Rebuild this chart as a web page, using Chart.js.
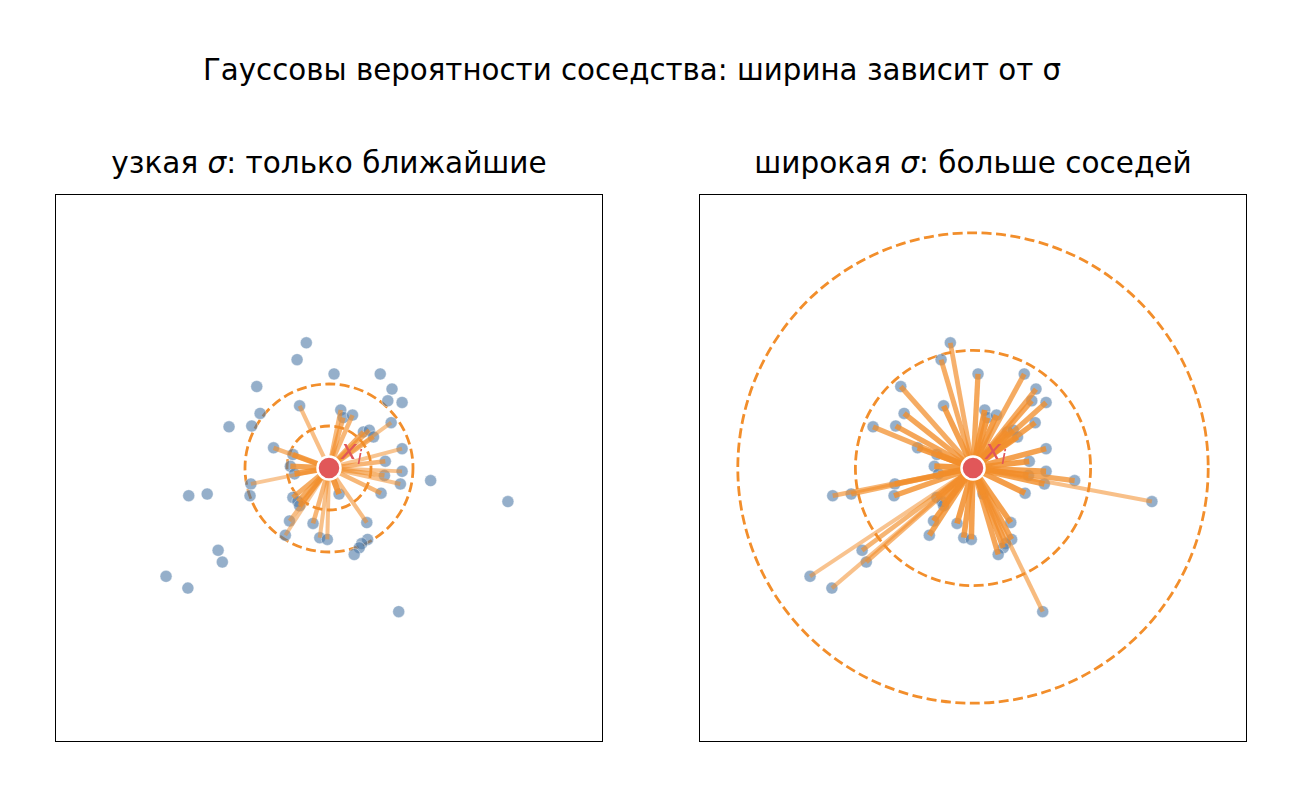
<!DOCTYPE html>
<html>
<head>
<meta charset="utf-8">
<script src="https://cdn.jsdelivr.net/npm/chart.js@4.4.1/dist/chart.umd.min.js"></script>
<style>
    body { margin: 0; background: #fff; font-family: "DejaVu Sans", sans-serif; }
    #page { position: relative; width: 1302px; height: 797px; }
    .title { position: absolute; text-align: center; color: #000; white-space: nowrap; }
    #mainTitle { left: 0; width: 1264px; top: 50px; font-size: 29.3px; line-height: 40px; }
    .subTitle { top: 145px; width: 546px; font-size: 29.5px; line-height: 36px; }
    .subTitle i { font-family: "DejaVu Sans", sans-serif; }
    canvas { position: absolute; }
</style>
</head>
<body>
<div id="page">
    <div id="mainTitle" class="title">Гауссовы вероятности соседства: ширина зависит от σ</div>
    <div class="title subTitle" style="left:56px">узкая <i>σ</i>: только ближайшие</div>
    <div class="title subTitle" style="left:700px">широкая <i>σ</i>: больше соседей</div>
    <canvas id="narrowChart" width="548" height="548" style="left:55px; top:194px"></canvas>
    <canvas id="wideChart" width="548" height="548" style="left:699px; top:194px"></canvas>
</div>
<script>
// Соседи (координаты в единицах данных, центр x_i в нуле)
const pointX = [-0.27, -0.38, 0.06, 0.61, -0.86, 0.75, 0.70, 0.87, -0.35, -0.82,
    0.14, 0.17, 0.28, -1.19, -0.92, 0.74, 0.41, 0.48, 0.53, -0.66,
    -0.43, 0.87, -0.46, 0.67, 0.87, -0.41, 0.66, 0.85, 1.21, -0.93,
    -0.94, -1.67, -1.45, -0.43, -0.37, -0.35, 0.62, 0.12, -0.47, -0.19,
    0.45, -0.52, -0.11, -0.02, 0.46, 0.39, 0.36, 0.30, -1.32, -1.27,
    -1.94, -1.68, 0.83, 2.13];
const pointY = [1.49, 1.29, 1.12, 1.12, 0.97, 0.94, 0.80, 0.78, 0.74, 0.65,
    0.69, 0.60, 0.63, 0.49, 0.50, 0.54, 0.43, 0.45, 0.37, 0.24,
    0.16, 0.23, 0.02, 0.08, -0.04, -0.07, -0.09, -0.19, -0.15, -0.19,
    -0.33, -0.33, -0.31, -0.35, -0.40, -0.45, -0.30, -0.31, -0.63, -0.66,
    -0.65, -0.80, -0.83, -0.85, -0.85, -0.90, -0.95, -1.03, -0.98, -1.12,
    -1.29, -1.43, -1.71, -0.40];
const centerPoint = { x: 0, y: 0 };
const sigmaNarrow = 0.5;
const sigmaWide = 1.4;
const circleMultipliers = [1, 2];
const axisLimit = 3.25;

const ORANGE = '242, 142, 43';
const RED = '#e15759';
const BLUE = 'rgba(78, 121, 167, 0.6)';

// Рамка, пунктирные окружности и подпись x_i
const panelPlugin = {
    id: 'panelDecor',
    beforeDatasetsDraw(chart) {
        const { ctx, scales } = chart;
        const sigma = chart.options.plugins.panelDecor.sigma;
        const cx = scales.x.getPixelForValue(centerPoint.x);
        const cy = scales.y.getPixelForValue(centerPoint.y);
        ctx.save();
        ctx.strokeStyle = `rgb(${ORANGE})`;
        ctx.lineWidth = 2.8;
        ctx.setLineDash([10, 4.5]);
        circleMultipliers.forEach(k => {
            const r = scales.x.getPixelForValue(centerPoint.x + k * sigma) - cx;
            ctx.beginPath();
            ctx.arc(cx, cy, r, 0, Math.PI * 2);
            ctx.stroke();
        });
        ctx.restore();
    },
    afterDatasetsDraw(chart) {
        const { ctx, chartArea, scales } = chart;
        const cx = scales.x.getPixelForValue(centerPoint.x);
        const cy = scales.y.getPixelForValue(centerPoint.y);
        ctx.save();
        ctx.fillStyle = RED;
        ctx.font = 'italic 27px "DejaVu Sans"';
        ctx.textBaseline = 'alphabetic';
        ctx.fillText('x', cx + 12, cy - 9);
        ctx.font = 'italic 19px "DejaVu Sans"';
        ctx.fillText('i', cx + 28, cy - 4);
        ctx.restore();
        ctx.save();
        ctx.strokeStyle = '#000';
        ctx.lineWidth = 1;
        ctx.strokeRect(chartArea.left - 0.5, chartArea.top - 0.5,
            chartArea.right - chartArea.left + 1, chartArea.bottom - chartArea.top + 1);
        ctx.restore();
    }
};

function buildDatasets(sigma) {
    const weights = pointX.map((x, i) => {
        const dx = x - centerPoint.x;
        const dy = pointY[i] - centerPoint.y;
        return Math.exp(-(dx * dx + dy * dy) / (2 * sigma * sigma));
    });
    const wMax = Math.max(...weights);
    const datasets = [];

    // Соседние точки
    datasets.push({
        type: 'scatter',
        data: pointX.map((x, i) => ({ x: x, y: pointY[i] })),
        backgroundColor: BLUE,
        borderColor: 'rgba(255,255,255,0.8)',
        borderWidth: 0.5,
        pointRadius: 6,
        order: 3
    });

    // Линии к соседям
    weights.forEach((w, i) => {
        const r = w / wMax;
        if (r < 0.2) return;
        datasets.push({
            type: 'line',
            data: [{ x: centerPoint.x, y: centerPoint.y }, { x: pointX[i], y: pointY[i] }],
            borderColor: `rgba(${ORANGE}, ${(0.4 + 0.5 * r).toFixed(3)})`,
            borderWidth: 3.2 + 2.8 * r,
            pointRadius: 0,
            fill: false,
            order: 2
        });
    });

    // Центр x_i
    datasets.push({
        type: 'scatter',
        data: [centerPoint],
        backgroundColor: RED,
        borderColor: '#fff',
        borderWidth: 2.5,
        pointRadius: 11.5,
        order: 1
    });
    return datasets;
}

function createPanel(canvasId, sigma) {
    const ctx = document.getElementById(canvasId).getContext('2d');
    return new Chart(ctx, {
        type: 'scatter',
        data: { datasets: buildDatasets(sigma) },
        options: {
            responsive: false,
            animation: false,
            devicePixelRatio: 1,
            layout: { padding: 1, autoPadding: false },
            events: [],
            scales: {
                x: { type: 'linear', min: -axisLimit, max: axisLimit, display: false },
                y: { type: 'linear', min: -axisLimit, max: axisLimit, display: false }
            },
            plugins: {
                legend: { display: false },
                tooltip: { enabled: false },
                panelDecor: { sigma: sigma }
            }
        },
        plugins: [panelPlugin]
    });
}

createPanel('narrowChart', sigmaNarrow);
createPanel('wideChart', sigmaWide);
</script>
</body>
</html>
